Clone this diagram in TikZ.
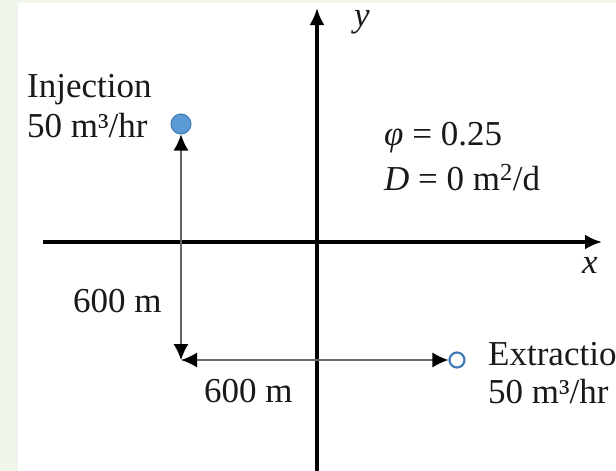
\documentclass[tikz,border=0pt]{standalone}
\usepackage{fontspec}
\setmainfont{Liberation Serif}
\usetikzlibrary{arrows.meta}
\definecolor{bggreen}{HTML}{EEF6EC}
\definecolor{wellblue}{HTML}{5B9BD5}
\definecolor{welledge}{HTML}{3F7CB8}
\tikzset{
  axis/.style={line width=3.2pt,-{Latex[length=17pt,width=15pt]}},
  dim/.style={line width=1.4pt,draw=black!60,{Latex[length=16pt,width=15pt,black]}-{Latex[length=16pt,width=15pt,black]}},
  lbl/.style={font=\fontsize{35}{42}\selectfont,text=black!90,inner sep=0pt},
}
\begin{document}
\begin{tikzpicture}[x=1pt,y=-1pt]
  \fill[bggreen] (0,0) rectangle (616,471);
  \fill[white] (18,3) rectangle (616,471);
  \useasboundingbox (0,0) rectangle (616,471);
  \coordinate (ybot) at (317,471);
  \coordinate (ytop) at (317,8);
  \coordinate (xleft) at (43,242);
  \coordinate (xright) at (602,242);
  \draw[axis] (ybot) -- (ytop);
  \draw[axis] (xleft) -- (xright);
  \node[lbl,anchor=base] (ylab) at (362,26) {\textit{y}};
  \node[lbl,anchor=base] (xlab) at (590,273) {\textit{x}};
  \node[circle,fill=wellblue,draw=welledge,line width=1pt,minimum size=20pt,inner sep=0pt] (inj) at (181,124) {};
  \node[circle,draw=welledge,line width=2.2pt,minimum size=15pt,inner sep=0pt] (ext) at (457,360) {};
  \coordinate (corner) at (181,360);
  \draw[dim] (corner) -- (inj);
  \draw[dim] (corner) -- (ext);
  \node[lbl,anchor=base west] (injname) at (27,97) {Injection};
  \node[lbl,anchor=base west] (injrate) at (27,137) {50 m³/hr};
  \node[lbl,anchor=base west] (extname) at (488,365) {Extraction};
  \node[lbl,anchor=base west] (extrate) at (488,403) {50 m³/hr};
  \node[lbl,anchor=base west] (dy) at (73,312) {600 m};
  \node[lbl,anchor=base west] (dx) at (204,402) {600 m};
  \node[lbl,anchor=base west] (phi) at (384,145) {\textit{φ} = 0.25};
  \node[lbl,anchor=base west] (disp) at (384,190) {\textit{D} = 0 m\textsuperscript{2}/d};
\end{tikzpicture}
\end{document}
